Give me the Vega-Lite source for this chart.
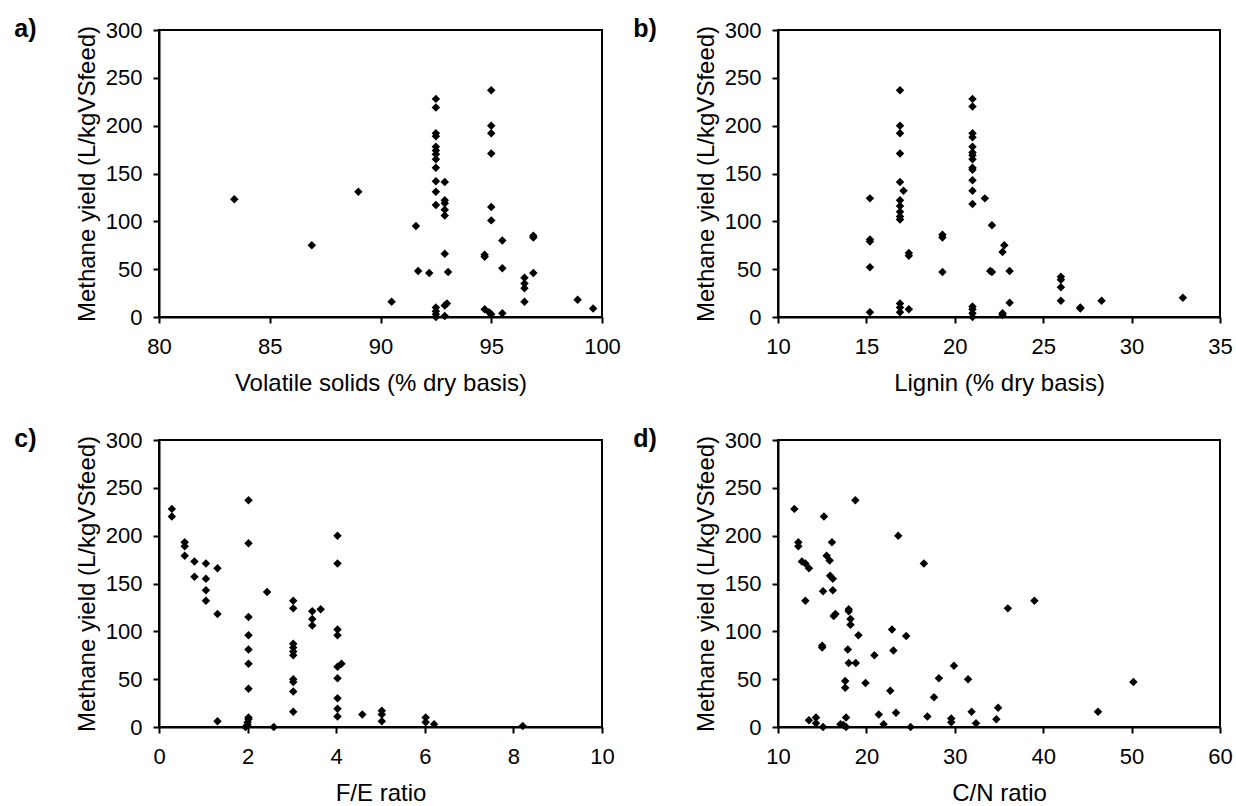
{
  "$schema": "https://vega.github.io/schema/vega-lite/v6.json",
  "background": "white",
  "padding": {"left": 13, "top": 16, "right": 5, "bottom": 0},
  "datasets": {
    "a": [
      {"x": 83.4, "y": 123}, {"x": 86.9, "y": 75}, {"x": 89.0, "y": 131}, {"x": 90.5, "y": 16},
      {"x": 91.6, "y": 95}, {"x": 91.7, "y": 48}, {"x": 92.2, "y": 46},
      {"x": 92.5, "y": 228}, {"x": 92.5, "y": 219}, {"x": 92.5, "y": 192}, {"x": 92.5, "y": 189},
      {"x": 92.5, "y": 178}, {"x": 92.5, "y": 174}, {"x": 92.5, "y": 170}, {"x": 92.5, "y": 165},
      {"x": 92.5, "y": 156}, {"x": 92.5, "y": 142}, {"x": 92.5, "y": 131}, {"x": 92.5, "y": 117},
      {"x": 92.5, "y": 10}, {"x": 92.5, "y": 6}, {"x": 92.5, "y": 3}, {"x": 92.5, "y": 0},
      {"x": 92.9, "y": 141}, {"x": 92.9, "y": 122}, {"x": 92.9, "y": 119}, {"x": 92.9, "y": 112},
      {"x": 92.9, "y": 106}, {"x": 92.9, "y": 66}, {"x": 93.05, "y": 47}, {"x": 93.0, "y": 14},
      {"x": 92.9, "y": 12}, {"x": 92.9, "y": 1},
      {"x": 95.0, "y": 237}, {"x": 95.0, "y": 200}, {"x": 95.0, "y": 192}, {"x": 95.0, "y": 171},
      {"x": 95.0, "y": 115}, {"x": 95.0, "y": 101}, {"x": 94.7, "y": 65}, {"x": 94.7, "y": 63},
      {"x": 94.7, "y": 8}, {"x": 94.9, "y": 5}, {"x": 95.0, "y": 3},
      {"x": 95.5, "y": 80}, {"x": 95.5, "y": 51}, {"x": 95.5, "y": 4},
      {"x": 96.5, "y": 41}, {"x": 96.5, "y": 35}, {"x": 96.5, "y": 30}, {"x": 96.5, "y": 16},
      {"x": 96.9, "y": 85}, {"x": 96.9, "y": 83}, {"x": 96.9, "y": 46},
      {"x": 98.9, "y": 18}, {"x": 99.6, "y": 9}
    ],
    "b": [
      {"x": 15.2, "y": 124}, {"x": 15.2, "y": 81}, {"x": 15.2, "y": 79}, {"x": 15.2, "y": 52}, {"x": 15.2, "y": 5},
      {"x": 16.9, "y": 237}, {"x": 16.9, "y": 200}, {"x": 16.9, "y": 192}, {"x": 16.9, "y": 171},
      {"x": 16.9, "y": 141}, {"x": 16.9, "y": 122}, {"x": 16.9, "y": 116}, {"x": 16.9, "y": 110},
      {"x": 16.9, "y": 105}, {"x": 16.9, "y": 102}, {"x": 16.9, "y": 14}, {"x": 16.9, "y": 10}, {"x": 16.9, "y": 5},
      {"x": 17.1, "y": 132}, {"x": 17.4, "y": 67}, {"x": 17.4, "y": 64}, {"x": 17.4, "y": 8},
      {"x": 19.3, "y": 86}, {"x": 19.3, "y": 83}, {"x": 19.3, "y": 47},
      {"x": 21.0, "y": 228}, {"x": 21.0, "y": 220}, {"x": 21.0, "y": 192}, {"x": 21.0, "y": 188},
      {"x": 21.0, "y": 178}, {"x": 21.0, "y": 172}, {"x": 21.0, "y": 169}, {"x": 21.0, "y": 165},
      {"x": 21.0, "y": 156}, {"x": 21.0, "y": 154}, {"x": 21.0, "y": 143}, {"x": 21.0, "y": 132},
      {"x": 21.0, "y": 118}, {"x": 21.0, "y": 11}, {"x": 21.0, "y": 8}, {"x": 21.0, "y": 4}, {"x": 21.0, "y": 0},
      {"x": 21.7, "y": 124}, {"x": 22.1, "y": 96}, {"x": 22.8, "y": 75}, {"x": 22.7, "y": 68},
      {"x": 22.0, "y": 48}, {"x": 22.1, "y": 47}, {"x": 23.1, "y": 48}, {"x": 23.1, "y": 15},
      {"x": 22.7, "y": 4}, {"x": 22.7, "y": 2},
      {"x": 26.0, "y": 42}, {"x": 26.0, "y": 39}, {"x": 26.0, "y": 31}, {"x": 26.0, "y": 17},
      {"x": 27.1, "y": 10}, {"x": 27.1, "y": 9}, {"x": 28.3, "y": 17}, {"x": 32.9, "y": 20}
    ],
    "c": [
      {"x": 0.29, "y": 228}, {"x": 0.29, "y": 220},
      {"x": 0.58, "y": 193}, {"x": 0.58, "y": 189}, {"x": 0.58, "y": 179},
      {"x": 0.8, "y": 173}, {"x": 0.8, "y": 157},
      {"x": 1.06, "y": 171}, {"x": 1.06, "y": 155}, {"x": 1.06, "y": 143}, {"x": 1.06, "y": 132},
      {"x": 1.32, "y": 166}, {"x": 1.32, "y": 118}, {"x": 1.32, "y": 6},
      {"x": 2.02, "y": 237}, {"x": 2.02, "y": 192}, {"x": 2.02, "y": 115}, {"x": 2.02, "y": 96},
      {"x": 2.02, "y": 81}, {"x": 2.02, "y": 66}, {"x": 2.02, "y": 40}, {"x": 2.02, "y": 10},
      {"x": 2.02, "y": 8}, {"x": 2.0, "y": 5}, {"x": 2.0, "y": 2}, {"x": 1.95, "y": 0},
      {"x": 2.44, "y": 141}, {"x": 2.59, "y": 0},
      {"x": 3.03, "y": 132}, {"x": 3.03, "y": 124}, {"x": 3.03, "y": 87}, {"x": 3.03, "y": 83},
      {"x": 3.03, "y": 79}, {"x": 3.03, "y": 75}, {"x": 3.03, "y": 50}, {"x": 3.03, "y": 47},
      {"x": 3.03, "y": 37}, {"x": 3.03, "y": 16},
      {"x": 3.46, "y": 121}, {"x": 3.46, "y": 113}, {"x": 3.46, "y": 106}, {"x": 3.65, "y": 123},
      {"x": 4.03, "y": 200}, {"x": 4.03, "y": 171}, {"x": 4.03, "y": 102}, {"x": 4.03, "y": 96},
      {"x": 4.03, "y": 63}, {"x": 4.03, "y": 51}, {"x": 4.03, "y": 30}, {"x": 4.03, "y": 19},
      {"x": 4.03, "y": 11}, {"x": 4.12, "y": 66},
      {"x": 4.59, "y": 13}, {"x": 5.03, "y": 17}, {"x": 5.03, "y": 13}, {"x": 5.03, "y": 6},
      {"x": 6.02, "y": 10}, {"x": 6.02, "y": 5}, {"x": 6.21, "y": 3}, {"x": 8.21, "y": 1}
    ],
    "d": [
      {"x": 11.85, "y": 228}, {"x": 12.3, "y": 193}, {"x": 12.3, "y": 189}, {"x": 12.7, "y": 173},
      {"x": 13.1, "y": 171}, {"x": 13.5, "y": 166}, {"x": 13.1, "y": 132}, {"x": 13.5, "y": 7},
      {"x": 14.3, "y": 10}, {"x": 14.3, "y": 4}, {"x": 15.1, "y": 0}, {"x": 15.2, "y": 220},
      {"x": 15.1, "y": 142}, {"x": 15.0, "y": 85}, {"x": 15.0, "y": 83}, {"x": 15.5, "y": 179},
      {"x": 15.85, "y": 174}, {"x": 16.1, "y": 193}, {"x": 15.9, "y": 158}, {"x": 16.2, "y": 155},
      {"x": 16.2, "y": 143}, {"x": 16.3, "y": 116}, {"x": 16.5, "y": 118},
      {"x": 17.06, "y": 3}, {"x": 17.4, "y": 2}, {"x": 17.7, "y": 0}, {"x": 17.7, "y": 10},
      {"x": 17.6, "y": 48}, {"x": 17.6, "y": 41}, {"x": 17.9, "y": 81}, {"x": 18.0, "y": 67},
      {"x": 18.0, "y": 123}, {"x": 18.0, "y": 121}, {"x": 18.2, "y": 113}, {"x": 18.2, "y": 107},
      {"x": 18.8, "y": 67}, {"x": 18.75, "y": 237}, {"x": 19.1, "y": 96}, {"x": 19.9, "y": 46},
      {"x": 20.9, "y": 75}, {"x": 21.4, "y": 13}, {"x": 21.95, "y": 3}, {"x": 22.7, "y": 38},
      {"x": 22.9, "y": 102}, {"x": 23.05, "y": 80}, {"x": 23.35, "y": 15}, {"x": 23.6, "y": 200},
      {"x": 24.5, "y": 95}, {"x": 25.0, "y": 0}, {"x": 26.5, "y": 171}, {"x": 26.9, "y": 11},
      {"x": 27.65, "y": 31}, {"x": 28.2, "y": 51}, {"x": 29.6, "y": 9}, {"x": 29.6, "y": 5},
      {"x": 29.9, "y": 64}, {"x": 31.5, "y": 50}, {"x": 31.9, "y": 16}, {"x": 32.4, "y": 4},
      {"x": 34.7, "y": 8}, {"x": 34.9, "y": 20}, {"x": 36.0, "y": 124}, {"x": 39.0, "y": 132},
      {"x": 46.2, "y": 16}, {"x": 50.2, "y": 47}
    ]
  },
  "columns": 2,
  "spacing": {"row": 30, "column": 10},
  "concat": [
    {
      "width": 443, "height": 287,
      "data": {"name": "a"},
      "title": {"text": "a)", "orient": "top", "anchor": "start", "frame": "bounds", "dx": -61, "dy": 23, "offset": -12, "baseline": "middle"},
      "mark": {"type": "point", "shape": "diamond", "filled": true, "color": "black", "opacity": 1, "size": 72},
      "encoding": {
        "x": {"field": "x", "type": "quantitative", "scale": {"domain": [80, 100], "nice": false, "zero": false},
              "axis": {"values": [80, 85, 90, 95, 100], "title": "Volatile solids (% dry basis)"}},
        "y": {"field": "y", "type": "quantitative", "scale": {"domain": [0, 300], "nice": false},
              "axis": {"values": [0, 50, 100, 150, 200, 250, 300], "title": "Methane yield (L/kgVSfeed)"}}
      }
    },
    {
      "width": 442, "height": 287,
      "data": {"name": "b"},
      "title": {"text": "b)", "orient": "top", "anchor": "start", "frame": "bounds", "dx": -61, "dy": 23, "offset": -12, "baseline": "middle"},
      "mark": {"type": "point", "shape": "diamond", "filled": true, "color": "black", "opacity": 1, "size": 72},
      "encoding": {
        "x": {"field": "x", "type": "quantitative", "scale": {"domain": [10, 35], "nice": false, "zero": false},
              "axis": {"values": [10, 15, 20, 25, 30, 35], "title": "Lignin (% dry basis)"}},
        "y": {"field": "y", "type": "quantitative", "scale": {"domain": [0, 300], "nice": false},
              "axis": {"values": [0, 50, 100, 150, 200, 250, 300], "title": "Methane yield (L/kgVSfeed)"}}
      }
    },
    {
      "width": 443, "height": 287,
      "data": {"name": "c"},
      "title": {"text": "c)", "orient": "top", "anchor": "start", "frame": "bounds", "dx": -61, "dy": 23, "offset": -12, "baseline": "middle"},
      "mark": {"type": "point", "shape": "diamond", "filled": true, "color": "black", "opacity": 1, "size": 72},
      "encoding": {
        "x": {"field": "x", "type": "quantitative", "scale": {"domain": [0, 10], "nice": false, "zero": false},
              "axis": {"values": [0, 2, 4, 6, 8, 10], "title": "F/E ratio"}},
        "y": {"field": "y", "type": "quantitative", "scale": {"domain": [0, 300], "nice": false},
              "axis": {"values": [0, 50, 100, 150, 200, 250, 300], "title": "Methane yield (L/kgVSfeed)"}}
      }
    },
    {
      "width": 442, "height": 287,
      "data": {"name": "d"},
      "title": {"text": "d)", "orient": "top", "anchor": "start", "frame": "bounds", "dx": -61, "dy": 23, "offset": -12, "baseline": "middle"},
      "mark": {"type": "point", "shape": "diamond", "filled": true, "color": "black", "opacity": 1, "size": 72},
      "encoding": {
        "x": {"field": "x", "type": "quantitative", "scale": {"domain": [10, 60], "nice": false, "zero": false},
              "axis": {"values": [10, 20, 30, 40, 50, 60], "title": "C/N ratio"}},
        "y": {"field": "y", "type": "quantitative", "scale": {"domain": [0, 300], "nice": false},
              "axis": {"values": [0, 50, 100, 150, 200, 250, 300], "title": "Methane yield (L/kgVSfeed)"}}
      }
    }
  ],
  "config": {
    "font": "Liberation Sans",
    "view": {"stroke": "black", "strokeWidth": 2},
    "title": {"font": "Liberation Sans", "fontSize": 25, "fontWeight": "bold", "color": "black"},
    "axis": {
      "grid": false,
      "domainColor": "black", "domainWidth": 2,
      "tickColor": "black", "tickWidth": 2, "tickSize": 6,
      "labelFont": "Liberation Sans", "labelFontSize": 22, "labelColor": "black", "labelPadding": 11,
      "labelFlush": false, "labelOverlap": false,
      "titleFont": "Liberation Sans", "titleFontSize": 24, "titleFontWeight": "normal", "titleColor": "black", "titlePadding": 6
    },
    "axisX": {"labelPadding": 13, "titlePadding": 14}
  }
}
